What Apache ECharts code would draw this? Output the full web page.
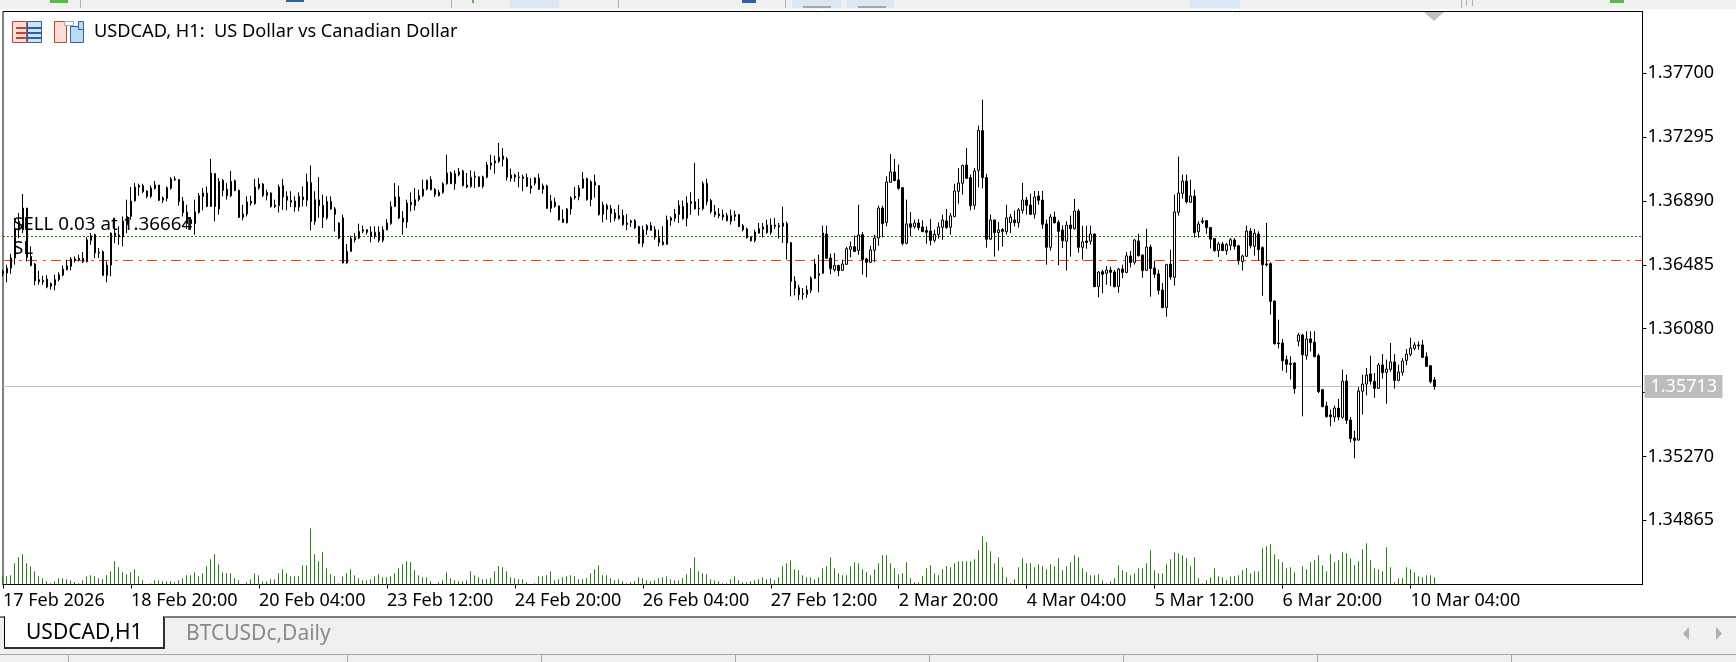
<!DOCTYPE html>
<html><head><meta charset="utf-8">
<style>html,body{margin:0;padding:0;background:#fff}#c{width:1736px;height:662px}</style>
<script src="https://cdn.jsdelivr.net/npm/echarts@6/dist/echarts.min.js"></script>
</head><body><div id="c"></div>
<script>
const tickLabels=["17 Feb 2026","18 Feb 20:00","20 Feb 04:00","23 Feb 12:00","24 Feb 20:00","26 Feb 04:00","27 Feb 12:00","2 Mar 20:00","4 Mar 04:00","5 Mar 12:00","6 Mar 20:00","10 Mar 04:00"];
const priceTicks=[1.37700,1.37295,1.36890,1.36485,1.36080,1.35675,1.35270,1.34865];
const lastPrice=1.35713, sellLevel=1.36664, slLevel=1.36512;
const opens=[
1.36428,1.36433,1.36464,1.36528,1.36707,1.36707,1.36845,1.36538,1.36490,1.36391,
1.36386,1.36395,1.36349,1.36357,1.36391,1.36420,1.36454,1.36475,1.36522,1.36526,
1.36526,1.36505,1.36640,1.36676,1.36564,1.36568,1.36418,1.36483,1.36686,1.36674,
1.36661,1.36739,1.36792,1.36891,1.36987,1.36987,1.36953,1.36919,1.36970,1.36991,
1.36894,1.36906,1.36970,1.37029,1.37025,1.36889,1.36820,1.36771,1.36746,1.36817,
1.36919,1.36940,1.36855,1.37063,1.36839,1.37020,1.36965,1.36923,1.37018,1.36957,
1.36786,1.36807,1.36887,1.36872,1.36972,1.36997,1.36925,1.36940,1.36864,1.36860,
1.36987,1.36919,1.36894,1.36889,1.36851,1.36915,1.36894,1.37006,1.36760,1.36896,
1.36862,1.36782,1.36887,1.36839,1.36653,1.36782,1.36496,1.36570,1.36657,1.36655,
1.36707,1.36707,1.36693,1.36665,1.36693,1.36640,1.36707,1.36746,1.36855,1.36915,
1.36782,1.36756,1.36866,1.36860,1.36898,1.36923,1.36965,1.37025,1.36961,1.36923,
1.36944,1.36999,1.37067,1.36999,1.37056,1.37080,1.36991,1.36982,1.37040,1.37042,
1.36983,1.37040,1.37116,1.37131,1.37141,1.37175,1.37156,1.37033,1.37054,1.37042,
1.37042,1.37038,1.36985,1.37002,1.37035,1.36964,1.36985,1.36843,1.36883,1.36858,
1.36775,1.36752,1.36839,1.36919,1.36919,1.36972,1.37031,1.36898,1.37010,1.36987,
1.36805,1.36860,1.36841,1.36814,1.36778,1.36797,1.36750,1.36763,1.36765,1.36727,
1.36621,1.36706,1.36733,1.36708,1.36657,1.36630,1.36615,1.36767,1.36780,1.36805,
1.36854,1.36780,1.36885,1.36885,1.36845,1.36841,1.37000,1.36892,1.36822,1.36807,
1.36803,1.36797,1.36761,1.36803,1.36803,1.36733,1.36712,1.36661,1.36638,1.36685,
1.36710,1.36737,1.36689,1.36737,1.36733,1.36729,1.36746,1.36625,1.36382,1.36340,
1.36302,1.36298,1.36323,1.36399,1.36429,1.36431,1.36680,1.36528,1.36454,1.36480,
1.36450,1.36488,1.36583,1.36600,1.36575,1.36676,1.36522,1.36501,1.36577,1.36655,
1.36845,1.36754,1.37008,1.37074,1.37023,1.36974,1.36621,1.36746,1.36727,1.36750,
1.36725,1.36702,1.36699,1.36640,1.36676,1.36723,1.36763,1.36723,1.36792,1.36951,
1.37002,1.37118,1.37038,1.36862,1.37084,1.37336,1.37038,1.36647,1.36769,1.36689,
1.36708,1.36695,1.36752,1.36769,1.36752,1.36830,1.36896,1.36864,1.36805,1.36921,
1.36896,1.36744,1.36596,1.36788,1.36754,1.36706,1.36634,1.36737,1.36714,1.36826,
1.36596,1.36636,1.36634,1.36680,1.36348,1.36441,1.36431,1.36452,1.36439,1.36348,
1.36458,1.36437,1.36541,1.36501,1.36636,1.36547,1.36450,1.36598,1.36465,1.36427,
1.36325,1.36215,1.36490,1.36406,1.36818,1.36938,1.37016,1.36881,1.36921,1.36695,
1.36763,1.36765,1.36721,1.36651,1.36575,1.36617,1.36575,1.36608,1.36642,1.36606,
1.36507,1.36539,1.36699,1.36602,1.36680,1.36594,1.36490,1.36492,1.36255,1.35989,
1.35989,1.35883,1.35860,1.35862,1.36000,1.36040,1.35909,1.36015,1.35995,1.35909,
1.35693,1.35590,1.35533,1.35520,1.35577,1.35518,1.35748,1.35501,1.35387,1.35374,
1.35683,1.35729,1.35793,1.35746,1.35702,1.35850,1.35803,1.35822,1.35869,1.35752,
1.35803,1.35879,1.35917,1.35955,1.35977,1.35977,1.35902,1.35845,1.35755];
const highs=[
1.36454,1.36486,1.36555,1.36782,1.36813,1.36934,1.36845,1.36602,1.36496,1.36448,
1.36416,1.36420,1.36374,1.36422,1.36437,1.36481,1.36517,1.36534,1.36538,1.36549,
1.36566,1.36661,1.36686,1.36682,1.36591,1.36576,1.36507,1.36691,1.36782,1.36729,
1.36792,1.36898,1.36978,1.37003,1.36999,1.36999,1.36957,1.36987,1.37016,1.36991,
1.36919,1.36982,1.37041,1.37046,1.37029,1.36915,1.36866,1.36788,1.36898,1.36940,
1.36972,1.36982,1.37156,1.37067,1.37035,1.37029,1.37003,1.37080,1.37025,1.36961,
1.36866,1.36919,1.36923,1.37029,1.37035,1.37003,1.36961,1.36944,1.36898,1.36993,
1.37029,1.36951,1.36951,1.36919,1.36944,1.36982,1.37063,1.37115,1.36951,1.37041,
1.36930,1.36919,1.36919,1.36851,1.36754,1.36803,1.36617,1.36669,1.36686,1.36746,
1.36733,1.36712,1.36729,1.36729,1.36729,1.36729,1.36775,1.36887,1.37003,1.36987,
1.36824,1.36898,1.36944,1.36972,1.36961,1.37025,1.37025,1.37046,1.36972,1.36961,
1.37008,1.37183,1.37077,1.37084,1.37099,1.37088,1.37067,1.37084,1.37077,1.37046,
1.37050,1.37137,1.37183,1.37177,1.37257,1.37226,1.37169,1.37095,1.37063,1.37074,
1.37057,1.37063,1.37035,1.37040,1.37063,1.37000,1.36993,1.36928,1.36911,1.36860,
1.36835,1.36845,1.36919,1.36978,1.36991,1.37074,1.37038,1.37021,1.37057,1.36991,
1.36885,1.36873,1.36864,1.36839,1.36866,1.36835,1.36807,1.36771,1.36775,1.36733,
1.36733,1.36742,1.36756,1.36729,1.36708,1.36729,1.36797,1.36792,1.36839,1.36894,
1.36892,1.36919,1.36945,1.37131,1.36902,1.37014,1.37031,1.36902,1.36864,1.36845,
1.36835,1.36814,1.36835,1.36828,1.36807,1.36744,1.36721,1.36666,1.36708,1.36750,
1.36750,1.36771,1.36778,1.36782,1.36750,1.36854,1.36759,1.36630,1.36412,1.36359,
1.36338,1.36353,1.36412,1.36522,1.36549,1.36733,1.36733,1.36556,1.36560,1.36486,
1.36518,1.36598,1.36632,1.36670,1.36866,1.36693,1.36530,1.36606,1.36676,1.36860,
1.36860,1.37046,1.37188,1.37156,1.37120,1.36978,1.36898,1.36820,1.36771,1.36775,
1.36767,1.36729,1.36775,1.36708,1.36754,1.36803,1.36839,1.36814,1.36999,1.37099,
1.37120,1.37226,1.37057,1.37099,1.37367,1.37532,1.37061,1.36803,1.36771,1.36756,
1.36718,1.36866,1.36807,1.36828,1.36845,1.37004,1.36915,1.36936,1.36953,1.36953,
1.36953,1.36771,1.36807,1.36822,1.36767,1.36735,1.36761,1.36797,1.36902,1.36839,
1.36733,1.36733,1.36733,1.36682,1.36446,1.36452,1.36477,1.36473,1.36452,1.36465,
1.36486,1.36566,1.36573,1.36649,1.36682,1.36551,1.36714,1.36613,1.36511,1.36454,
1.36370,1.36492,1.36581,1.36930,1.37171,1.37057,1.37057,1.37025,1.36961,1.36761,
1.36784,1.36769,1.36723,1.36655,1.36630,1.36630,1.36623,1.36655,1.36655,1.36611,
1.36549,1.36733,1.36718,1.36712,1.36697,1.36602,1.36750,1.36501,1.36260,1.36137,
1.36015,1.35909,1.35905,1.35867,1.36053,1.36048,1.36063,1.36063,1.36063,1.35922,
1.35698,1.35617,1.35566,1.35592,1.35634,1.35820,1.35788,1.35520,1.35433,1.35710,
1.35788,1.35831,1.35909,1.35799,1.35862,1.35919,1.35884,1.35989,1.35919,1.35852,
1.35894,1.35951,1.36023,1.35995,1.35999,1.36008,1.35930,1.35850,1.35774];
const lows=[
1.36412,1.36374,1.36428,1.36486,1.36655,1.36686,1.36507,1.36475,1.36355,1.36359,
1.36359,1.36336,1.36328,1.36323,1.36380,1.36412,1.36450,1.36450,1.36500,1.36507,
1.36496,1.36500,1.36612,1.36528,1.36528,1.36418,1.36374,1.36412,1.36623,1.36612,
1.36602,1.36686,1.36771,1.36885,1.36923,1.36940,1.36906,1.36910,1.36961,1.36889,
1.36877,1.36887,1.36961,1.37018,1.36860,1.36792,1.36712,1.36707,1.36676,1.36809,
1.36830,1.36851,1.36851,1.36760,1.36803,1.36919,1.36898,1.36915,1.36951,1.36782,
1.36767,1.36792,1.36860,1.36866,1.36961,1.36915,1.36894,1.36847,1.36845,1.36817,
1.36834,1.36830,1.36851,1.36822,1.36824,1.36855,1.36855,1.36703,1.36739,1.36782,
1.36718,1.36771,1.36834,1.36697,1.36648,1.36496,1.36492,1.36566,1.36627,1.36648,
1.36686,1.36676,1.36627,1.36648,1.36627,1.36627,1.36703,1.36739,1.36851,1.36775,
1.36676,1.36718,1.36824,1.36830,1.36887,1.36915,1.36957,1.36957,1.36915,1.36919,
1.36936,1.36993,1.36997,1.36961,1.37046,1.36982,1.36970,1.36974,1.36972,1.36978,
1.36970,1.37033,1.37088,1.37063,1.37131,1.37109,1.37019,1.37012,1.37012,1.36976,
1.36951,1.36978,1.36936,1.36987,1.36961,1.36936,1.36841,1.36818,1.36847,1.36765,
1.36752,1.36746,1.36803,1.36898,1.36894,1.36968,1.36892,1.36856,1.36911,1.36797,
1.36754,1.36771,1.36754,1.36761,1.36771,1.36733,1.36704,1.36725,1.36712,1.36619,
1.36596,1.36674,1.36702,1.36644,1.36602,1.36608,1.36613,1.36733,1.36759,1.36750,
1.36771,1.36729,1.36803,1.36835,1.36797,1.36830,1.36862,1.36809,1.36788,1.36780,
1.36767,1.36761,1.36740,1.36763,1.36725,1.36697,1.36651,1.36632,1.36627,1.36682,
1.36659,1.36682,1.36676,1.36712,1.36651,1.36623,1.36518,1.36285,1.36291,1.36260,
1.36264,1.36275,1.36306,1.36395,1.36310,1.36427,1.36522,1.36425,1.36441,1.36412,
1.36448,1.36486,1.36532,1.36566,1.36549,1.36422,1.36406,1.36497,1.36501,1.36606,
1.36659,1.36729,1.37004,1.37014,1.36961,1.36608,1.36615,1.36666,1.36714,1.36704,
1.36695,1.36619,1.36608,1.36627,1.36651,1.36644,1.36714,1.36676,1.36786,1.36873,
1.36930,1.37031,1.36830,1.36835,1.36976,1.36970,1.36594,1.36644,1.36537,1.36575,
1.36600,1.36676,1.36687,1.36729,1.36721,1.36809,1.36803,1.36803,1.36778,1.36866,
1.36714,1.36486,1.36575,1.36746,1.36482,1.36592,1.36448,1.36537,1.36708,1.36562,
1.36518,1.36587,1.36613,1.36346,1.36279,1.36306,1.36359,1.36351,1.36342,1.36308,
1.36401,1.36431,1.36467,1.36486,1.36537,1.36403,1.36446,1.36283,1.36401,1.36296,
1.36213,1.36156,1.36391,1.36353,1.36797,1.36904,1.36873,1.36877,1.36657,1.36657,
1.36744,1.36682,1.36589,1.36568,1.36534,1.36573,1.36549,1.36577,1.36581,1.36486,
1.36448,1.36535,1.36589,1.36543,1.36513,1.36289,1.36475,1.36169,1.35979,1.35955,
1.35814,1.35801,1.35757,1.35668,1.35968,1.35524,1.35883,1.35936,1.35900,1.35672,
1.35583,1.35516,1.35461,1.35488,1.35499,1.35509,1.35476,1.35359,1.35258,1.35370,
1.35535,1.35657,1.35725,1.35642,1.35698,1.35763,1.35604,1.35807,1.35700,1.35746,
1.35782,1.35848,1.35905,1.35943,1.35947,1.35894,1.35837,1.35733,1.35693];
const closes=[
1.36443,1.36464,1.36528,1.36712,1.36760,1.36845,1.36532,1.36481,1.36384,1.36378,
1.36378,1.36344,1.36366,1.36391,1.36422,1.36458,1.36479,1.36522,1.36513,1.36517,
1.36505,1.36644,1.36669,1.36560,1.36560,1.36418,1.36483,1.36686,1.36669,1.36661,
1.36762,1.36792,1.36889,1.36978,1.36978,1.36949,1.36919,1.36972,1.36991,1.36894,
1.36908,1.36974,1.37029,1.37023,1.36887,1.36817,1.36746,1.36746,1.36820,1.36923,
1.36940,1.36855,1.37067,1.36855,1.37014,1.36957,1.36923,1.37014,1.36957,1.36786,
1.36807,1.36883,1.36877,1.36978,1.36997,1.36925,1.36944,1.36855,1.36855,1.36978,
1.36915,1.36894,1.36881,1.36851,1.36919,1.36898,1.37010,1.36760,1.36898,1.36860,
1.36786,1.36887,1.36839,1.36805,1.36750,1.36496,1.36570,1.36653,1.36644,1.36697,
1.36699,1.36691,1.36665,1.36691,1.36640,1.36707,1.36750,1.36855,1.36915,1.36782,
1.36756,1.36877,1.36881,1.36898,1.36923,1.36965,1.37020,1.36961,1.36932,1.36944,
1.36999,1.37067,1.36999,1.37063,1.37075,1.36987,1.36978,1.37040,1.37046,1.36982,
1.37042,1.37118,1.37131,1.37143,1.37167,1.37154,1.37040,1.37054,1.37042,1.37038,
1.37033,1.36983,1.36970,1.37035,1.36964,1.36985,1.36843,1.36890,1.36856,1.36771,
1.36754,1.36839,1.36909,1.36911,1.36972,1.37029,1.36898,1.37012,1.36989,1.36803,
1.36864,1.36837,1.36811,1.36780,1.36797,1.36740,1.36740,1.36754,1.36721,1.36621,
1.36706,1.36733,1.36704,1.36659,1.36627,1.36613,1.36769,1.36782,1.36807,1.36860,
1.36778,1.36877,1.36875,1.36841,1.36841,1.37000,1.36885,1.36822,1.36803,1.36797,
1.36788,1.36765,1.36797,1.36792,1.36727,1.36708,1.36657,1.36638,1.36693,1.36714,
1.36725,1.36689,1.36737,1.36729,1.36727,1.36750,1.36623,1.36380,1.36336,1.36296,
1.36296,1.36325,1.36401,1.36490,1.36418,1.36687,1.36526,1.36461,1.36480,1.36448,
1.36490,1.36587,1.36600,1.36570,1.36674,1.36518,1.36501,1.36579,1.36655,1.36845,
1.36746,1.37010,1.37074,1.37019,1.36970,1.36621,1.36744,1.36723,1.36750,1.36721,
1.36695,1.36691,1.36640,1.36678,1.36725,1.36769,1.36721,1.36795,1.36953,1.37004,
1.37114,1.37033,1.36860,1.37080,1.37336,1.37038,1.36647,1.36769,1.36689,1.36706,
1.36697,1.36782,1.36788,1.36752,1.36833,1.36896,1.36862,1.36805,1.36915,1.36894,
1.36742,1.36596,1.36788,1.36752,1.36697,1.36638,1.36737,1.36714,1.36826,1.36596,
1.36630,1.36627,1.36680,1.36346,1.36439,1.36425,1.36452,1.36437,1.36346,1.36458,
1.36437,1.36541,1.36499,1.36642,1.36543,1.36448,1.36598,1.36461,1.36425,1.36323,
1.36213,1.36486,1.36408,1.36820,1.36940,1.37016,1.36885,1.36921,1.36689,1.36744,
1.36756,1.36721,1.36647,1.36575,1.36617,1.36575,1.36613,1.36644,1.36602,1.36511,
1.36541,1.36699,1.36606,1.36685,1.36581,1.36486,1.36486,1.36253,1.35985,1.35985,
1.35877,1.35854,1.35854,1.35700,1.36040,1.35915,1.36015,1.35991,1.35902,1.35681,
1.35585,1.35522,1.35522,1.35577,1.35520,1.35748,1.35499,1.35383,1.35372,1.35685,
1.35729,1.35786,1.35746,1.35702,1.35850,1.35801,1.35824,1.35869,1.35752,1.35805,
1.35875,1.35919,1.35957,1.35977,1.35972,1.35898,1.35841,1.35744,1.35714];
const volumes=[
25,25,28,64,82,91,64,55,40,25,
19,10,4,10,19,19,16,13,7,4,
13,25,28,25,19,16,28,40,70,52,
37,31,37,46,25,13,1,3,13,13,
10,10,10,7,13,19,28,28,37,25,
34,55,76,91,61,37,34,34,19,13,
0,7,16,34,28,10,10,16,16,34,
46,34,25,25,25,58,58,169,91,70,
97,49,31,25,4,25,34,46,28,19,
13,13,16,25,31,22,22,25,34,49,
61,70,67,43,28,22,22,10,0,7,
13,37,19,13,10,10,13,40,28,22,
16,16,19,40,55,52,40,22,19,16,
16,7,0,4,25,25,28,40,13,16,
22,25,28,25,16,16,19,34,46,58,
28,28,19,13,16,10,4,7,10,22,
19,13,10,13,19,22,25,16,13,13,
19,31,49,82,40,34,31,16,13,10,
4,4,16,25,13,7,7,10,13,16,
22,16,19,13,22,55,64,73,46,43,
28,22,22,16,22,49,55,82,49,34,
28,28,55,67,64,46,37,28,46,64,
88,88,64,49,31,34,67,19,7,7,
25,49,58,34,28,46,55,52,64,70,
70,70,70,76,103,145,127,100,64,82,
52,22,4,16,52,79,64,64,52,61,
55,46,61,55,79,43,55,67,88,82,
49,37,28,28,31,13,4,10,19,58,
43,37,28,34,49,49,64,103,43,34,
34,61,76,97,94,88,79,55,82,19,
4,13,22,49,25,22,13,25,25,28,
43,49,34,40,40,109,115,121,91,76,
67,49,52,37,0,55,46,67,73,88,
58,40,91,67,73,97,94,79,58,70,
106,124,73,49,46,40,112,52,7,19,
19,52,46,37,25,22,28,28,22];

const N=411;
const cats=Array.from({length:N},(_,i)=>String(i));
const candleData=opens.map((o,i)=>[o,closes[i],lows[i],highs[i]]);
const TICK_EVERY=32, isTick=i=>i%TICK_EVERY===0 && i/TICK_EVERY<tickLabels.length;
const FONT='"Noto Sans",sans-serif';
const GREEN='#27820f';

const chart=echarts.init(document.getElementById('c'),null,{renderer:'canvas'});
const txt=(x,y,s,size,color,extra)=>({type:'text',x,y,silent:true,z:50,style:Object.assign({text:s,font:size+'px '+FONT,fill:color,textVerticalAlign:'middle'},extra||{})});
const rect=(x,y,w,h,fill,stroke,z)=>({type:'rect',silent:true,z:z||40,shape:{x,y,width:w,height:h},style:{fill:fill,stroke:stroke||null,lineWidth:stroke?1:0}});
const poly=(pts,fill)=>({type:'polygon',silent:true,z:45,shape:{points:pts},style:{fill}});
const graphics=[
  rect(0,0,1736,9,'#f0f0f0'),
  rect(510,0,49,8,'#dbe8f4'),rect(792,0,49,8,'#dbe8f4'),rect(847,0,47,8,'#dbe8f4'),rect(1190,0,50,8,'#dbe8f4'),
  rect(803,6,28,2,'#a8a8a8'),rect(858,6,28,2,'#a8a8a8'),
  rect(80,0,1,8,'#b0b0b0'),rect(451,0,1,8,'#b0b0b0'),rect(618,0,1,8,'#b0b0b0'),rect(785,0,1,8,'#b0b0b0'),rect(1461,0,1,8,'#b0b0b0'),rect(1466,0,1,6,'#b0b0b0'),rect(1472,0,1,6,'#b0b0b0'),
  rect(50,0,18,3,'#58b84a'),rect(286,0,18,2,'#2a62a8'),rect(742,0,14,3,'#2a62a8'),rect(472,0,2,3,'#58b84a'),rect(1610,0,14,3,'#58b84a'),
  rect(12.5,21.5,14,21,'#fde0d8','#cc4030'),rect(27.5,21.5,14,21,'#cfe4f6','#2a62a8'),
  rect(16,27,10,2,'#cc4030'),rect(16,32,10,2,'#cc4030'),rect(16,37,10,2,'#cc4030'),
  rect(28,27,13,2,'#2a62a8'),rect(28,32,13,2,'#2a62a8'),rect(28,37,13,2,'#2a62a8'),
  rect(54.5,21.5,12,21,'#fddcd2','#cc4030'),rect(70.5,26.5,13,16,'#bcdcf6','#2a62a8'),rect(78.5,21.5,5,8,'#bcdcf6','#2a62a8'),
  rect(64.5,21.5,9,4,'#ffffff','#a8a8a8'),
  txt(94,32,'USDCAD, H1:  US Dollar vs Canadian Dollar',18.2,'#000'),
  txt(13,225,'SELL 0.03 at 1.36664',18.8,'#000'),
  txt(13,249,'SL',18.8,'#000'),
  poly([[1424,12],[1444,12],[1434,21]],'#c0c0c0'),
  rect(0,617,1736,45,'#f0f0f0'),
  rect(0,616.5,1736,1,'#000'),
  rect(4.5,617,159,30.5,'#ffffff','#000'),
  rect(163,618,2,30,'#303030'),rect(4,647,161,2,'#303030'),rect(5,616,158,2,'#ffffff'),
  rect(0,654,1736,1,'#a8a8a8'),
  rect(68,654,1,8,'#a8a8a8'),rect(347,654,1,8,'#a8a8a8'),rect(541,654,1,8,'#a8a8a8'),rect(735,654,1,8,'#a8a8a8'),rect(929,654,1,8,'#a8a8a8'),rect(1123,654,1,8,'#a8a8a8'),rect(1317,654,1,8,'#a8a8a8'),rect(1511,654,1,8,'#a8a8a8'),
  txt(26,633,'USDCAD,H1',21,'#000'),
  txt(186,634,'BTCUSDc,Daily',21,'#8a8a8a'),
  poly([[1689,627],[1689,640],[1683,633.5]],'#b0b0b0'),
  poly([[1716,627],[1716,640],[1722,633.5]],'#b0b0b0')
];

chart.setOption({
  animation:false,
  backgroundColor:'#ffffff',
  graphic:graphics,
  grid:[
    {left:2.5,width:1640,top:11.5,height:573,show:true,borderColor:'#000',borderWidth:1,backgroundColor:'transparent'},
    {left:2.5,width:1640,top:528.2,height:56.3,show:false}
  ],
  xAxis:[
    {type:'category',gridIndex:0,data:cats,boundaryGap:false,
     axisLine:{show:true,lineStyle:{color:'#000',width:1}},
     axisTick:{show:true,length:4,interval:isTick,lineStyle:{color:'#000'}},
     axisLabel:{show:true,interval:isTick,align:'left',margin:7,color:'#000',fontFamily:FONT,fontSize:18,hideOverlap:false,
       formatter:(v,idx)=>tickLabels[idx/TICK_EVERY]||''},
     splitLine:{show:false}},
    {type:'category',gridIndex:1,data:cats,boundaryGap:false,show:false}
  ],
  yAxis:[
    {type:'value',gridIndex:0,position:'right',min:1.34458,max:1.38091,scale:true,
     axisLine:{show:true,lineStyle:{color:'#000',width:1}},
     axisTick:{show:true,length:4,customValues:priceTicks,lineStyle:{color:'#000'}},
     axisLabel:{show:true,customValues:priceTicks,margin:5,color:'#000',fontFamily:FONT,fontSize:18,align:'left',padding:[3,0,0,0],
       formatter:v=>v.toFixed(5)},
     splitLine:{show:false}},
    {type:'value',gridIndex:1,min:0,max:169,show:false}
  ],
  series:[
    {name:'USDCAD',type:'candlestick',xAxisIndex:0,yAxisIndex:0,data:candleData,barWidth:2,z:3,silent:true,
     itemStyle:{color:'#ffffff',color0:'#000000',borderColor:'#000000',borderColor0:'#000000',borderColorDoji:'#000000',borderWidth:1},
     markLine:{silent:true,symbol:'none',animation:false,z:1,precision:5,data:[
       {yAxis:lastPrice,lineStyle:{color:'#c0c0c0',width:1,type:'solid'},
        label:{show:true,position:'end',distance:2,formatter:()=>lastPrice.toFixed(5),color:'#fff',fontFamily:FONT,fontSize:18,
               backgroundColor:'#bdbdbd',width:72,height:23,lineHeight:23,align:'left',padding:[0,0,0,6]}},
       {yAxis:sellLevel,lineStyle:{color:'#1e7a00',width:1,type:[2,2]},label:{show:false}},
       {yAxis:slLevel,lineStyle:{color:'#ff4000',width:1,type:[10,6,3,5]},label:{show:false}}
     ]}},
    {name:'Volume',type:'bar',xAxisIndex:1,yAxisIndex:1,data:volumes,barWidth:1,silent:true,itemStyle:{color:GREEN},z:2}
  ]
});
</script></body></html>
